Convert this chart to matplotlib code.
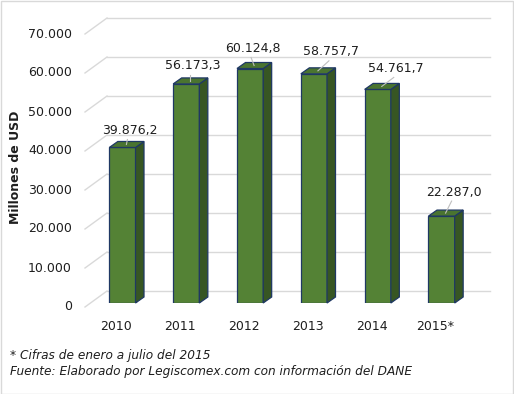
import matplotlib
matplotlib.use("Agg")
import matplotlib.pyplot as plt
from matplotlib.patches import Polygon, Rectangle
from matplotlib.transforms import Affine2D, IdentityTransform
import numpy as np

# datos
years = ["2010", "2011", "2012", "2013", "2014", "2015*"]
valores = [39876.2, 56173.3, 60124.8, 58757.7, 54761.7, 22287.0]
etiquetas = ["39.876,2", "56.173,3", "60.124,8", "58.757,7", "54.761,7", "22.287,0"]
y_ticks = [0, 10000, 20000, 30000, 40000, 50000, 60000, 70000]
y_tick_labels = ["0", "10.000", "20.000", "30.000", "40.000", "50.000", "60.000", "70.000"]

# where the value labels sit, in pixels from the bar top
label_off = [(7, 17), (6, 18), (3, 20), (17, 22), (18, 21), (12, 24)]

W, H = 514, 394
txt = "#1e1e1e"
c_front, c_side, c_top, c_edge = "#548235", "#375623", "#4a7430", "#1f3864"
grid_c = "#d9d9d9"

fig = plt.figure(figsize=(W / 100, H / 100), dpi=100)
ax = fig.add_axes([90.5 / W, 91 / H, 383 / W, 273 / H])
ax.set_xlim(-0.5, 5.5)
ax.set_ylim(0, 70000)
ax.axis("off")

depth = np.array([22.0, 16.0])     # front -> back wall
back = 0.75 * depth                 # bars front face -> back wall
front = -0.25 * depth               # bars front face -> front plane
bdep = np.array([8.5, 6.0])         # depth of each bar
bw = 0.41

to_px = ax.transData.transform
ident = IdentityTransform()

# back wall gridlines + left wall diagonals
x0, x1 = ax.get_xlim()
for v in y_ticks:
    a = to_px((x0, v)) + back
    b = to_px((x1, v)) + back
    f = to_px((x0, v)) + front
    ax.plot([a[0], b[0]], [a[1], b[1]], color=grid_c, lw=1, transform=ident,
            clip_on=False, zorder=1)
    ax.plot([f[0], a[0]], [f[1], a[1]], color=grid_c, lw=1, transform=ident,
            clip_on=False, zorder=1)

# y tick labels on the front plane
for v, lab in zip(y_ticks, y_tick_labels):
    ax.text(x0, v, lab, transform=ax.transData + Affine2D().translate(front[0] - 13, front[1]),
            ha="right", va="center", fontsize=9, color=txt)

# bars
x = np.arange(len(years))
ax.bar(x, valores, width=bw, color=c_front, edgecolor=c_edge, lw=0.9, zorder=3)
for i, v in enumerate(valores):
    l0 = to_px((i - bw / 2, v))
    r0 = to_px((i + bw / 2, 0))
    r1 = to_px((i + bw / 2, v))
    side = [r0, r1, r1 + bdep, r0 + bdep]
    top = [l0, r1, r1 + bdep, l0 + bdep]
    ax.add_patch(Polygon(side, closed=True, transform=ident, fc=c_side, ec=c_edge,
                         lw=0.9, clip_on=False, zorder=3))
    ax.add_patch(Polygon(top, closed=True, transform=ident, fc=c_top, ec=c_edge,
                         lw=0.9, clip_on=False, zorder=3))

    # value label + leader line
    ox, oy = label_off[i]
    c = to_px((i, v))
    p_a = c + np.array([4, 3])
    p_b = c + np.array([ox - 2, oy - 9])
    ax.plot([p_a[0], p_b[0]], [p_a[1], p_b[1]], color="#bfbfbf", lw=0.8,
            transform=ident, clip_on=False, zorder=4)
    ax.text(i, v, etiquetas[i], transform=ax.transData + Affine2D().translate(ox, oy),
            ha="center", va="center", fontsize=9, color=txt, zorder=5)

# x labels
for i, yr in enumerate(years):
    ax.text(i, 0, yr, transform=ax.transData + Affine2D().translate(-6, -23),
            ha="center", va="center", fontsize=9, color=txt)

fig.text(16 / W, 1 - 167 / H, "Millones de USD", rotation=90, ha="center", va="center",
         fontsize=9, fontweight="bold", color=txt)

fig.text(10 / W, 1 - 355 / H, "* Cifras de enero a julio del 2015", fontsize=8.7,
         style="italic", ha="left", va="center", color=txt)
fig.text(10 / W, 1 - 371 / H, "Fuente: Elaborado por Legiscomex.com con información del DANE",
         fontsize=8.7, style="italic", ha="left", va="center", color=txt)

fig.patches.append(Rectangle((0.5 / W, 0.5 / H), 1 - 1.5 / W, 1 - 1.5 / H, transform=fig.transFigure,
                             fill=False, ec=grid_c, lw=1))

fig.savefig("out.png", dpi=100)
